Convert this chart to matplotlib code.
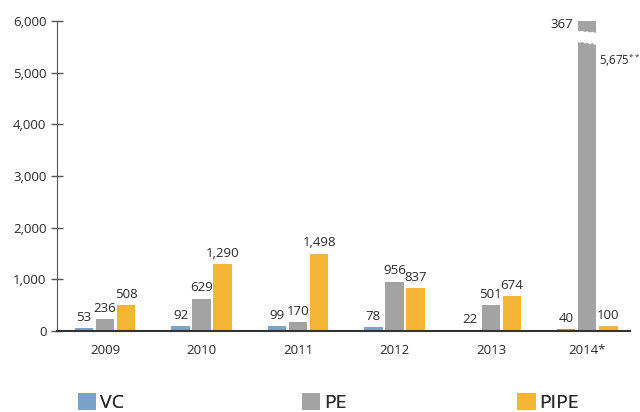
import matplotlib
matplotlib.use("Agg")
import matplotlib.pyplot as plt
import numpy as np
from matplotlib.patches import Patch, Polygon

years = ["2009", "2010", "2011", "2012", "2013", "2014*"]
vc = [53, 92, 99, 78, 22, 40]
pe = [236, 629, 170, 956, 501, 5675]
pipe = [508, 1290, 1498, 837, 674, 100]
pe_2014_extra = 367
yticks = [0, 1000, 2000, 3000, 4000, 5000, 6000]

c_vc = "#7AA3CA"
c_pe = "#A3A3A3"
c_pipe = "#F5B537"
txt = "#2a2a2a"

plt.rcParams['font.family'] = ['Open Sans', 'DejaVu Sans']
plt.rcParams['mathtext.default'] = 'regular'

fig = plt.figure(figsize=(6.4, 4.12), dpi=100)
ax = fig.add_axes([0.089, 0.1966, 0.895, 0.752])

x = np.arange(len(years))
w = 0.19
off = 0.218

ax.bar(x - off, vc, w, color=c_vc)
ax.bar(x, pe, w, color=c_pe)
# extra stacked segment for 2014 PE (broken bar)
ax.bar(x[-1], pe_2014_extra, w, bottom=pe[-1], color=c_pe)
ax.bar(x + off, pipe, w, color=c_pipe)

# break marker on 2014 PE bar
xc = x[-1]
yb = pe[-1]
xs = np.linspace(xc - w/2 - 0.01, xc + w/2 + 0.01, 9)
top = yb + np.array([150, 125, 140, 115, 130, 105, 120, 100, 110])
bot = yb + np.array([-60, -95, -75, -110, -90, -125, -100, -135, -115])
poly = np.vstack([np.column_stack([xs, top]), np.column_stack([xs[::-1], bot[::-1]])])
ax.add_patch(Polygon(poly, closed=True, facecolor="white", edgecolor="none", zorder=3))

fs = 9.5
for i in range(len(years)):
    ax.annotate(f"{vc[i]:,}", (x[i] - off, vc[i]), xytext=(0, 3), textcoords="offset points",
                ha="center", va="bottom", fontsize=fs, color=txt)
    if i < len(years) - 1:
        ax.annotate(f"{pe[i]:,}", (x[i], pe[i]), xytext=(0, 3), textcoords="offset points",
                    ha="center", va="bottom", fontsize=fs, color=txt)
    ax.annotate(f"{pipe[i]:,}", (x[i] + off, pipe[i]), xytext=(0, 3), textcoords="offset points",
                ha="center", va="bottom", fontsize=fs, color=txt)

ax.annotate(f"{pe_2014_extra:,}", (xc - w/2, 6000), xytext=(-3.5, -2.5),
            textcoords="offset points", ha="right", va="center", fontsize=fs, color=txt,
            annotation_clip=False)
ax.annotate(f"{pe[-1]:,}" + r"$^{**}$", (xc + w/2, pe[-1]), xytext=(1.5, -16),
            textcoords="offset points", ha="left", va="center", fontsize=8.3, color=txt,
            annotation_clip=False)

ax.set_ylim(0, 6000)
ax.set_xlim(-0.5, 5.44)
ax.set_yticks(yticks)
ax.set_yticklabels([f"{v:,}" for v in yticks], fontsize=fs, color=txt)
ax.set_xticks(x)
ax.set_xticklabels(years, fontsize=fs, color=txt)
ax.tick_params(axis="x", length=0, pad=9)
ax.tick_params(axis="y", direction="inout", length=9, width=1, color="#555555", pad=3)
for s in ["top", "right"]:
    ax.spines[s].set_visible(False)
ax.spines["left"].set_color("#555555")
ax.spines["bottom"].set_color("#333333")
ax.spines["bottom"].set_linewidth(1.5)

# legend: three separate entries
entries = [("VC", c_vc, 0.1345), ("PE", c_pe, 0.4845), ("PIPE", c_pipe, 0.8205)]
for lab, col, xpos in entries:
    leg = fig.legend(handles=[Patch(facecolor=col, label=lab)], loc="center left",
                     bbox_to_anchor=(xpos - 0.012, 0.022), frameon=False, fontsize=14,
                     handlelength=0.93, handleheight=0.93, handletextpad=0.2,
                     borderpad=0, borderaxespad=0, labelcolor=txt)
    fig.add_artist(leg)

fig.savefig("out.png", dpi=100)
